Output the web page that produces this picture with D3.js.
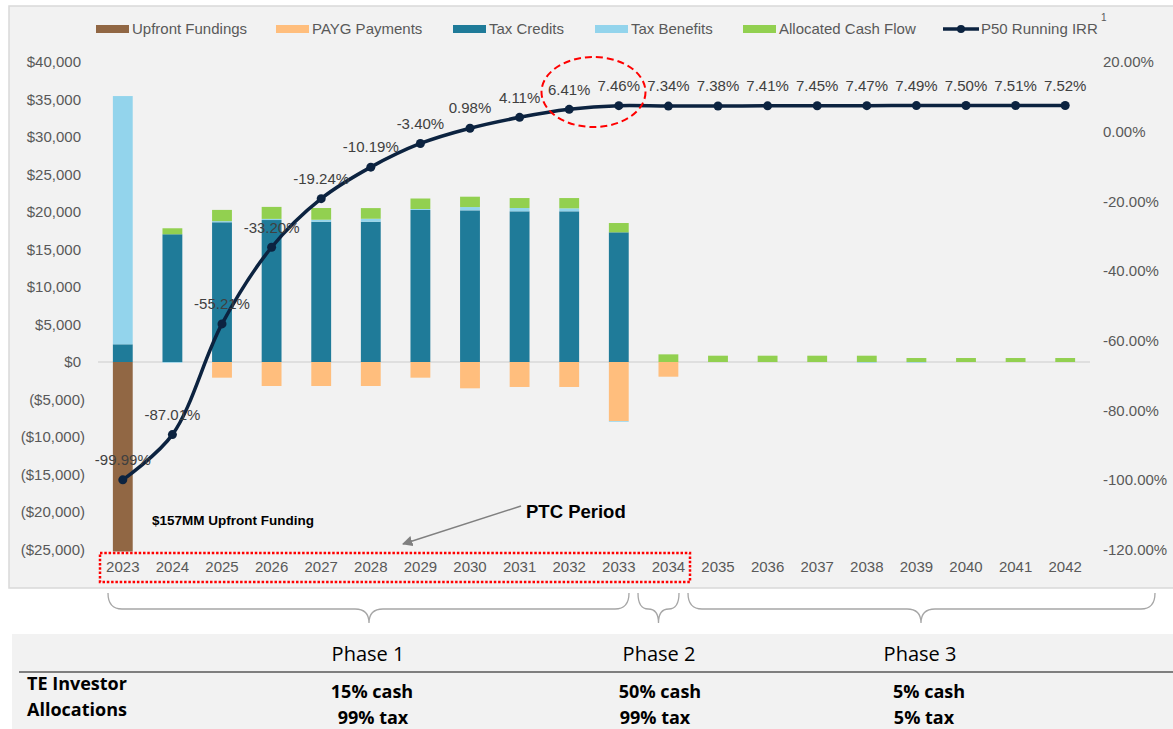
<!DOCTYPE html>
<html><head><meta charset="utf-8">
<script src="https://cdn.jsdelivr.net/npm/d3@7"></script>
<style>
body{margin:0;background:#fff;}
svg{display:block;font-family:"Liberation Sans",Arial,sans-serif;}
</style>
</head><body>
<svg id="c" width="1173" height="729"></svg>
<script>
// ---------------- DATA ----------------
const years = ["2023","2024","2025","2026","2027","2028","2029","2030","2031","2032","2033","2034","2035","2036","2037","2038","2039","2040","2041","2042"];
const upfrontFundings = [-157000,0,0,0,0,0,0,0,0,0,0,0,0,0,0,0,0,0,0,0];
const paygPayments    = [0,0,-2090,-3200,-3200,-3200,-2090,-3510,-3330,-3330,-7870,-1960,0,0,0,0,0,0,0,0];
const taxCredits      = [2360,17030,18630,18930,18700,18700,20270,20220,20090,20090,17290,0,0,0,0,0,0,0,0,0];
const taxBenefits     = [33100,-100,150,150,270,400,130,440,440,400,-100,0,0,0,0,-80,-80,0,0,0];
const allocatedCash   = [0,800,1500,1600,1560,1420,1400,1380,1330,1370,1240,1020,840,840,840,840,530,530,530,530];
const p50RunningIRR   = [-99.99,-87.01,-55.21,-33.20,-19.24,-10.19,-3.40,0.98,4.11,6.41,7.46,7.34,7.38,7.41,7.45,7.47,7.49,7.50,7.51,7.52];
const dollarTicks = [40000,35000,30000,25000,20000,15000,10000,5000,0,-5000,-10000,-15000,-20000,-25000];
const irrTicks = [20,0,-20,-40,-60,-80,-100,-120];
const seriesNames = ["Upfront Fundings","PAYG Payments","Tax Credits","Tax Benefits","Allocated Cash Flow"];
const seriesColors = ["#916744","#ffbe7d","#1f7b99","#93d4ec","#92d050"];
const lineName = "P50 Running IRR";
const phaseNames = ["Phase 1","Phase 2","Phase 3"];
const phaseCash = ["15% cash","50% cash","5% cash"];
const phaseTax = ["99% tax","99% tax","5% tax"];

// ---------------- LAYOUT ----------------
const W = 1173, H = 729;
const plot = {left:98, right:1090, top:62, bottom:549.5};
const navy = "#0c2340", axisGrey = "#595959";
const svg = d3.select("#c");

// panels
svg.append("rect").attr("x",9).attr("y",6).attr("width",W-9+2).attr("height",582)
  .attr("fill","#f2f2f2").attr("stroke","#d9d9d9").attr("stroke-width",1.5);
svg.append("rect").attr("x",12).attr("y",634).attr("width",W-12).attr("height",H-634)
  .attr("fill","#f2f2f2");

// scales
const x = d3.scaleBand().domain(years).range([plot.left, plot.right]).paddingInner(0.6).paddingOuter(0.3);
const y = d3.scaleLinear().domain([-25000,40000]).range([plot.bottom, plot.top]);
const y2 = d3.scaleLinear().domain([-120,20]).range([plot.bottom, plot.top]);

// axes
const fmtD = d => d < 0 ? "($" + d3.format(",")(-d) + ")" : "$" + d3.format(",")(d);
const gL = svg.append("g").attr("transform",`translate(85,0)`)
  .call(d3.axisLeft(y).tickValues(dollarTicks).tickSize(0).tickPadding(0).tickFormat(fmtD));
gL.select(".domain").remove();
gL.selectAll("text").attr("fill",axisGrey).attr("font-size",15).attr("font-family","Liberation Sans, Arial, sans-serif")
  .attr("dx", d => d >= 0 ? -4 : 0);

const gR = svg.append("g").attr("transform",`translate(1103,0)`)
  .call(d3.axisRight(y2).tickValues(irrTicks).tickSize(0).tickPadding(0).tickFormat(d => d.toFixed(2) + "%"));
gR.select(".domain").remove();
gR.selectAll("text").attr("fill",axisGrey).attr("font-size",15).attr("font-family","Liberation Sans, Arial, sans-serif");

const gX = svg.append("g").attr("transform",`translate(0,${plot.bottom})`)
  .call(d3.axisBottom(x).tickSize(0).tickPadding(12));
gX.select(".domain").remove();
gX.selectAll("text").attr("fill",axisGrey).attr("font-size",15).attr("font-family","Liberation Sans, Arial, sans-serif");

// zero line
svg.append("line").attr("x1",plot.left).attr("x2",plot.right).attr("y1",y(0)).attr("y2",y(0))
  .attr("stroke","#d9d9d9").attr("stroke-width",1.5);

// clip
svg.append("clipPath").attr("id","clip").append("rect")
  .attr("x",plot.left).attr("y",plot.top-20).attr("width",plot.right-plot.left).attr("height",plot.bottom-plot.top+22);

// stacked bars
const rows = years.map((yr,i) => ({year:yr,
  [seriesNames[0]]:upfrontFundings[i], [seriesNames[1]]:paygPayments[i], [seriesNames[2]]:taxCredits[i],
  [seriesNames[3]]:taxBenefits[i], [seriesNames[4]]:allocatedCash[i]}));
const stacked = d3.stack().keys(seriesNames).offset(d3.stackOffsetDiverging)(rows);
const gB = svg.append("g").attr("clip-path","url(#clip)");
stacked.forEach((s,si) => {
  gB.append("g").attr("fill",seriesColors[si]).selectAll("rect").data(s).join("rect")
    .attr("x", d => x(d.data.year)).attr("width", x.bandwidth())
    .attr("y", d => y(Math.max(d[0],d[1])))
    .attr("height", d => Math.abs(y(d[0]) - y(d[1])));
});

// IRR line
const cx = yr => x(yr) + x.bandwidth()/2;
const pts = years.map((yr,i) => ({yr, v:p50RunningIRR[i]}));
svg.append("path").datum(pts)
  .attr("d", d3.line().x(d => cx(d.yr)).y(d => y2(d.v)).curve(d3.curveCatmullRom.alpha(0.5)))
  .attr("fill","none").attr("stroke",navy).attr("stroke-width",3.5);
svg.append("g").selectAll("circle").data(pts).join("circle")
  .attr("cx", d => cx(d.yr)).attr("cy", d => y2(d.v)).attr("r",4.5).attr("fill",navy);
svg.append("g").selectAll("text").data(pts).join("text")
  .attr("x", d => cx(d.yr)).attr("y", d => y2(d.v) - 20).attr("dy","0.35em")
  .attr("text-anchor","middle").attr("font-size",15).attr("fill","#404040")
  .text(d => d.v.toFixed(2) + "%");

// legend
const legX = [96, 276, 453, 595, 743];
const gLeg = svg.append("g");
seriesNames.forEach((n,i) => {
  gLeg.append("rect").attr("x",legX[i]).attr("y",25).attr("width",33).attr("height",8).attr("fill",seriesColors[i]);
  gLeg.append("text").attr("x",legX[i]+36).attr("y",29).attr("dy","0.35em").attr("font-size",15).attr("fill",axisGrey).text(n);
});
gLeg.append("line").attr("x1",943).attr("x2",979).attr("y1",29).attr("y2",29).attr("stroke",navy).attr("stroke-width",3.5);
gLeg.append("circle").attr("cx",961).attr("cy",29).attr("r",4).attr("fill",navy);
gLeg.append("text").attr("x",981).attr("y",29).attr("dy","0.35em").attr("font-size",15).attr("fill",axisGrey).text(lineName);
gLeg.append("text").attr("x",1101).attr("y",21).attr("font-size",10).attr("fill",axisGrey).text("1");

// annotations
svg.append("ellipse").attr("cx",593.5).attr("cy",92).attr("rx",52).attr("ry",35)
  .attr("fill","none").attr("stroke","#ff0000").attr("stroke-width",2).attr("stroke-dasharray","7,4");
svg.append("rect").attr("x",100).attr("y",553).attr("width",590).attr("height",29)
  .attr("fill","none").attr("stroke","#ff0000").attr("stroke-width",2.5).attr("stroke-dasharray","2.5,1.8");
svg.append("defs").append("marker").attr("id","arr").attr("viewBox","0 0 10 10").attr("refX",9).attr("refY",5)
  .attr("markerWidth",7).attr("markerHeight",7).attr("orient","auto")
  .append("path").attr("d","M0,0L10,5L0,10z").attr("fill","#808080");
svg.append("line").attr("x1",521).attr("y1",506).attr("x2",403).attr("y2",544)
  .attr("stroke","#808080").attr("stroke-width",1.5).attr("marker-end","url(#arr)");
svg.append("text").attr("x",526).attr("y",518).attr("font-size",18.5).attr("font-weight","bold").attr("fill","#000").text("PTC Period");
svg.append("text").attr("x",152).attr("y",525).attr("font-size",13.5).attr("font-weight","bold").attr("fill","#000").text("$157MM Upfront Funding");

// braces
const braces = [{x1:108,x2:629,xm:369},{x1:638,x2:679,xm:658.5},{x1:688,x2:1155,xm:921}];
const bTop = 593, bMid = 609, bTip = 623;
braces.forEach(b => {
  const r = Math.min(14, (b.x2-b.x1)/4);
  const p = `M${b.x1},${bTop} Q${b.x1},${bMid} ${b.x1+r},${bMid} L${b.xm-r},${bMid} Q${b.xm},${bMid} ${b.xm},${bTip}`
          + ` Q${b.xm},${bMid} ${b.xm+r},${bMid} L${b.x2-r},${bMid} Q${b.x2},${bMid} ${b.x2},${bTop}`;
  svg.append("path").attr("d",p).attr("fill","none").attr("stroke","#a6a6a6").attr("stroke-width",1.3);
});

// table
const tf = "'Open Sans', 'Noto Sans', sans-serif";
const colX = [368, 659, 920];
phaseNames.forEach((n,i) => {
  svg.append("text").attr("x",colX[i]).attr("y",654).attr("dy","0.35em").attr("text-anchor","middle")
    .attr("font-family",tf).attr("font-size",20).attr("fill","#000").text(n);
});
svg.append("line").attr("x1",19).attr("x2",W).attr("y1",672).attr("y2",672).attr("stroke","#7f7f7f").attr("stroke-width",1.8);
svg.append("text").attr("x",27).attr("y",684).attr("dy","0.35em").attr("font-family",tf).attr("font-weight","bold").attr("font-size",18).text("TE Investor");
svg.append("text").attr("x",27).attr("y",710).attr("dy","0.35em").attr("font-family",tf).attr("font-weight","bold").attr("font-size",18).text("Allocations");
const cashX = [372, 660, 929], taxX = [373, 655, 924];
phaseCash.forEach((t,i) => svg.append("text").attr("x",cashX[i]).attr("y",692).attr("dy","0.35em").attr("text-anchor","middle")
  .attr("font-family",tf).attr("font-weight","bold").attr("font-size",18).text(t));
phaseTax.forEach((t,i) => svg.append("text").attr("x",taxX[i]).attr("y",718).attr("dy","0.35em").attr("text-anchor","middle")
  .attr("font-family",tf).attr("font-weight","bold").attr("font-size",18).text(t));
</script>
</body></html>
